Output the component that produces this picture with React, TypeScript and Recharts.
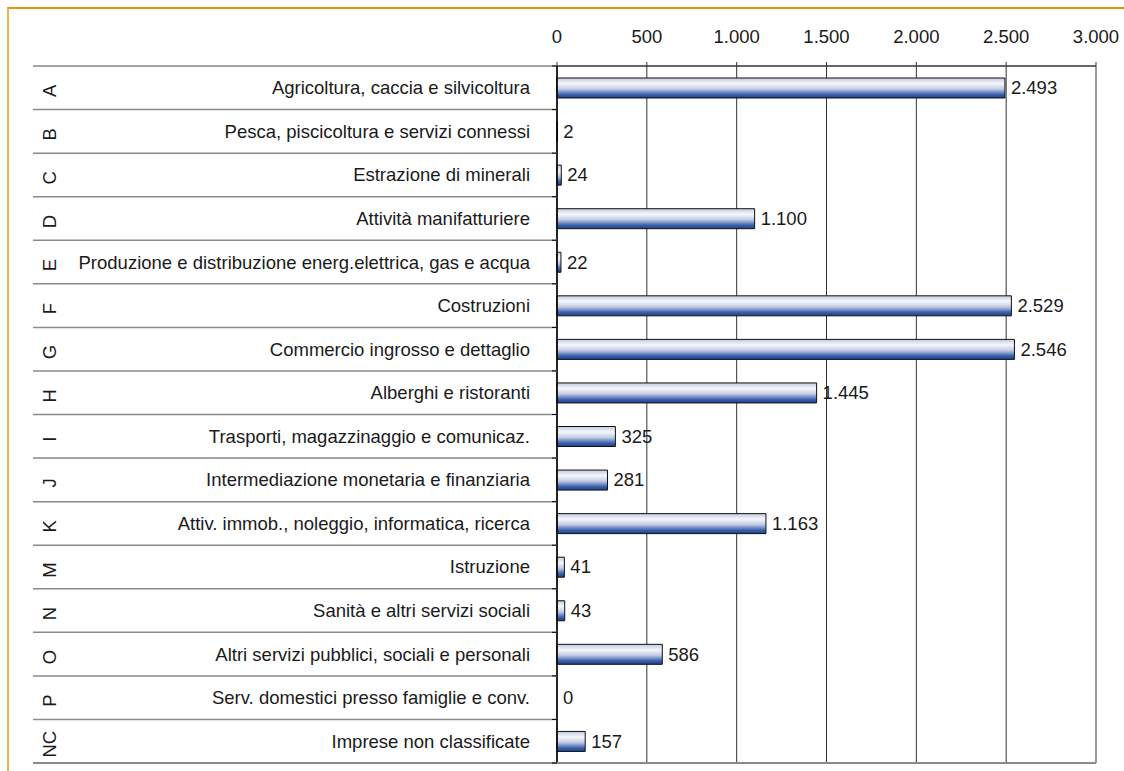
import React from 'react';
import { ComposedChart, Bar, Scatter, XAxis, YAxis, CartesianGrid, ReferenceLine } from 'recharts';

const codes = ['A', 'B', 'C', 'D', 'E', 'F', 'G', 'H', 'I', 'J', 'K', 'M', 'N', 'O', 'P', 'NC'];
const sectors = [
  'Agricoltura, caccia e silvicoltura',
  'Pesca, piscicoltura e servizi connessi',
  'Estrazione di minerali',
  'Attività manifatturiere',
  'Produzione e distribuzione energ.elettrica, gas e acqua',
  'Costruzioni',
  'Commercio ingrosso e dettaglio',
  'Alberghi e ristoranti',
  'Trasporti, magazzinaggio e comunicaz.',
  'Intermediazione monetaria e finanziaria',
  'Attiv. immob., noleggio, informatica, ricerca',
  'Istruzione',
  'Sanità e altri servizi sociali',
  'Altri servizi pubblici, sociali e personali',
  'Serv. domestici presso famiglie e conv.',
  'Imprese non classificate',
];
const values = [2493, 2, 24, 1100, 22, 2529, 2546, 1445, 325, 281, 1163, 41, 43, 586, 0, 157];
const xTicks = [0, 500, 1000, 1500, 2000, 2500, 3000];

const data = codes.map((c, i) => ({ code: c, name: sectors[i], value: values[i] }));

const W = 1124;
const H = 771;
const PLOT_LEFT = 557;
const PLOT_TOP = 66;
const PLOT_RIGHT = 1096;
const PLOT_BOTTOM = 763;
const BAND = (PLOT_BOTTOM - PLOT_TOP) / data.length;
const FONT = '"Liberation Sans", Arial, sans-serif';
const FS = 18.5;
const TEXT = '#1a1a1a';

const fmt = (n: number) => String(n).replace(/\B(?=(\d{3})+(?!\d))/g, '.');

const CategoryTick = (props: any) => {
  const { y, payload, index } = props;
  const item = data[index] || data.find((d) => d.name === payload.value);
  const top = y - BAND / 2;
  const bottom = y + BAND / 2;
  const isLast = index === data.length - 1;
  return (
    <g>
      <line x1={33} x2={PLOT_LEFT} y1={top} y2={top} stroke="#8a8a8a" strokeWidth={1.5} />
      <line x1={PLOT_LEFT - 5} x2={PLOT_LEFT} y1={top} y2={top} stroke="#000" strokeWidth={1} />
      {isLast && (
        <>
          <line x1={33} x2={PLOT_RIGHT} y1={bottom} y2={bottom} stroke="#8a8a8a" strokeWidth={2} />
          <line x1={PLOT_LEFT - 5} x2={PLOT_LEFT} y1={bottom} y2={bottom} stroke="#000" strokeWidth={1} />
        </>
      )}
      <text x={530} y={y} textAnchor="end" dominantBaseline="central" fontFamily={FONT} fontSize={FS} fill={TEXT}>
        {payload.value}
      </text>
      <text
        x={0}
        y={0}
        transform={`translate(49, ${y + 3}) rotate(-90)`}
        textAnchor="middle"
        dominantBaseline="central"
        fontFamily={FONT}
        fontSize={FS}
        fill={TEXT}
      >
        {item ? item.code : ''}
      </text>
    </g>
  );
};

const ValueShape = (props: any) => {
  const { cx, cy, payload } = props;
  if (cx == null || cy == null || !payload) return <g />;
  return (
    <text x={Number(cx) + 6} y={Number(cy)} dominantBaseline="central" fontFamily={FONT} fontSize={FS} fill={TEXT}>
      {fmt(Number(payload.value))}
    </text>
  );
};

export default function App() {
  return (
    <div style={{ position: 'fixed', left: 0, top: 0, width: W, height: H, overflow: 'hidden', background: '#fff' }}>
      <div
        style={{
          position: 'absolute',
          left: 7,
          top: 7,
          width: W + 50,
          height: H + 50,
          borderTop: '2px solid #E8920F',
          borderLeft: '2px solid #F0B04C',
          boxSizing: 'border-box',
        }}
      />
      <div style={{ position: 'absolute', left: 0, top: 0 }}>
        <ComposedChart
          width={W}
          height={H}
          data={data}
          layout="vertical"
          margin={{ top: 0, right: W - PLOT_RIGHT, bottom: H - PLOT_BOTTOM, left: 0 }}
          barCategoryGap={0}
        >
          <defs>
            <linearGradient id="barGrad" x1="0" y1="0" x2="0" y2="1">
              <stop offset="0%" stopColor="#c3c9e0" />
              <stop offset="28%" stopColor="#f6f7fb" />
              <stop offset="55%" stopColor="#c2cbe4" />
              <stop offset="82%" stopColor="#3d62ad" />
              <stop offset="100%" stopColor="#1b3f8c" />
            </linearGradient>
          </defs>
          <CartesianGrid horizontal={false} vertical={true} stroke="#333" strokeWidth={1} />
          <XAxis
            type="number"
            dataKey="value"
            orientation="top"
            domain={[0, 3000]}
            ticks={xTicks}
            interval={0}
            height={PLOT_TOP}
            tickFormatter={fmt}
            axisLine={{ stroke: '#333', strokeWidth: 1.5 }}
            tickLine={{ stroke: '#333' }}
            tickSize={4}
            tickMargin={19}
            tick={{ fontFamily: FONT, fontSize: FS, fill: TEXT }}
          />
          <YAxis
            type="category"
            dataKey="name"
            width={PLOT_LEFT}
            interval={0}
            axisLine={{ stroke: '#000', strokeWidth: 1.5 }}
            tickLine={false}
            tick={<CategoryTick />}
          />
          <ReferenceLine x={3000} stroke="#9a9a9a" strokeWidth={2} />
          <Bar dataKey="value" barSize={20} fill="url(#barGrad)" stroke="#111" strokeWidth={1} isAnimationActive={false} />
          <Scatter dataKey="value" shape={<ValueShape />} isAnimationActive={false} />
        </ComposedChart>
      </div>
    </div>
  );
}
